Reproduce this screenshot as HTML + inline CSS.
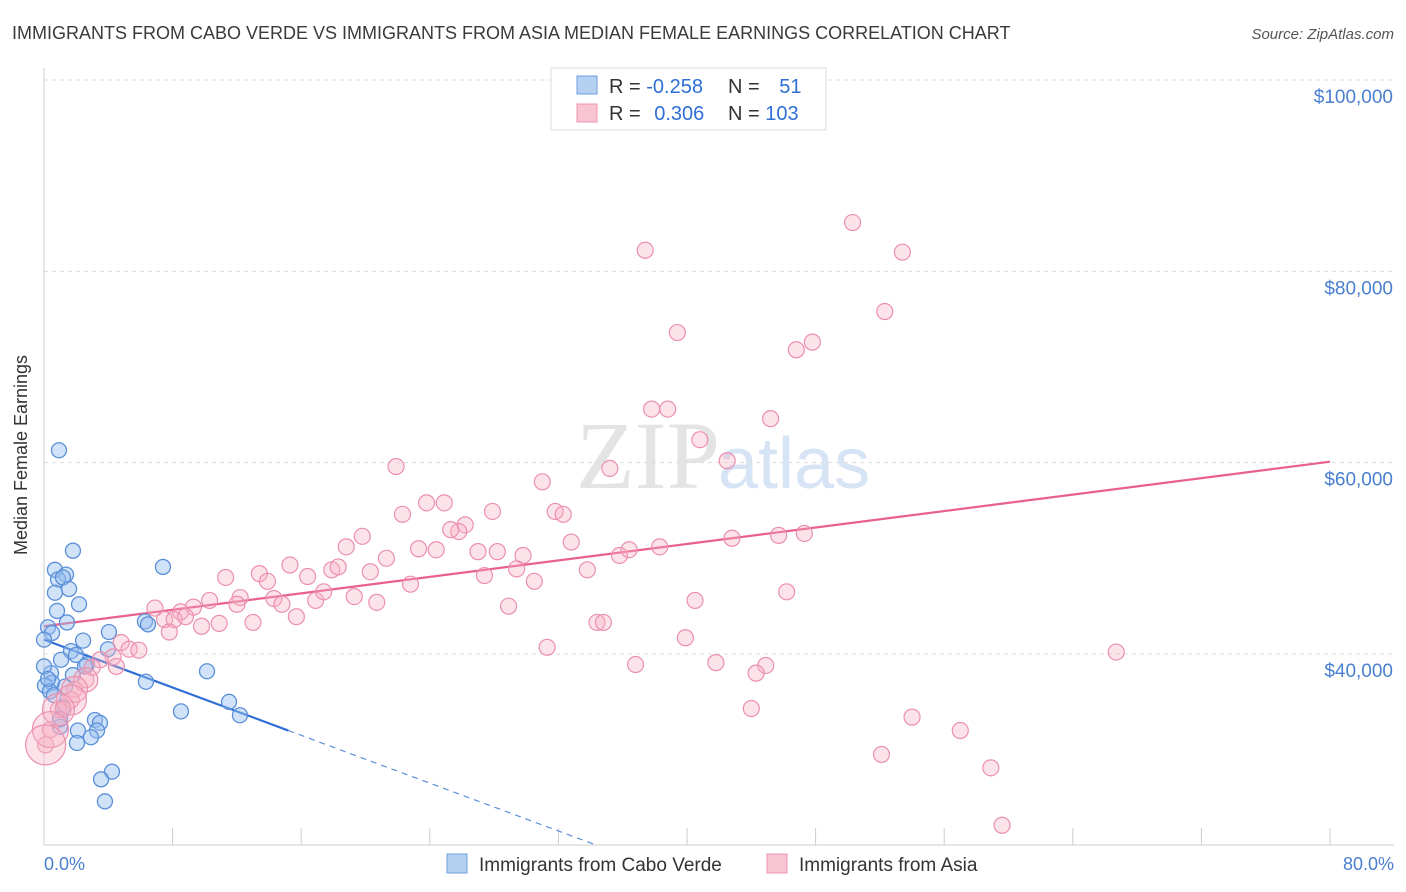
<!DOCTYPE html>
<html><head><meta charset="utf-8"><style>
body{margin:0;background:#fff;font-family:"Liberation Sans",sans-serif;}
svg{display:block}
</style></head><body>
<svg width="1406" height="892" xmlns="http://www.w3.org/2000/svg">
<text x="12" y="39" font-size="18" fill="#3a3a3a">IMMIGRANTS FROM CABO VERDE VS IMMIGRANTS FROM ASIA MEDIAN FEMALE EARNINGS CORRELATION CHART</text>
<text x="1394" y="39" font-size="15" fill="#555" font-style="italic" text-anchor="end">Source: ZipAtlas.com</text>
<text x="720" y="488" font-size="96" fill="#e4e4e4" text-anchor="end" font-family="Liberation Serif,serif">ZIP</text>
<text x="718" y="488" font-size="72" fill="#d6e4f5">atlas</text>
<g id="grid"></g><g id="axes"></g><g id="trend"></g><g id="pts"></g>
<text x="27" y="455" font-size="18" fill="#333" text-anchor="middle" transform="rotate(-90 27 455)">Median Female Earnings</text>
<text x="44" y="870" font-size="18" fill="#4a7fd0">0.0%</text>
<text x="1394" y="870" font-size="18" fill="#4a7fd0" text-anchor="end">80.0%</text>
<g>
<rect x="551" y="68" width="275" height="62" fill="#fff" stroke="#ddd"/>
<rect x="577" y="76" width="20" height="18" fill="#b6d0f2" stroke="#6f9ee0"/>
<rect x="577" y="104" width="20" height="18" fill="#f8c4d2" stroke="#ec93b0"/>
<text x="609" y="93" font-size="20" fill="#333">R = <tspan fill="#2f6fd6">-0.258</tspan></text>
<text x="728" y="93" font-size="20" fill="#333">N = <tspan fill="#2f6fd6" dx="14">51</tspan></text>
<text x="609" y="120" font-size="20" fill="#333">R = <tspan fill="#2f6fd6" dx="8">0.306</tspan></text>
<text x="728" y="120" font-size="20" fill="#333">N = <tspan fill="#2f6fd6">103</tspan></text>
</g>
<g>
<rect x="447" y="854" width="20" height="19" fill="#b6d0f2" stroke="#6f9ee0"/>
<text x="479" y="871" font-size="19" fill="#333">Immigrants from Cabo Verde</text>
<rect x="767" y="854" width="20" height="19" fill="#f8c4d2" stroke="#ec93b0"/>
<text x="799" y="871" font-size="19" fill="#333">Immigrants from Asia</text>
</g>
</svg>
<script>
const yTicks=[40000,60000,80000,100000];
const yTickLabels=["$40,000","$60,000","$80,000","$100,000"];
const xTicks=[0,8,16,24,32,40,48,56,64,72,80];
const blueX=[0.93,1.80,0.68,1.37,0.87,1.18,0.68,1.56,2.18,0.81,1.43,0.25,0.50,0,2.43,4.04,1.68,1.99,1.06,6.28,7.40,2.67,2.55,3.98,10.14,0.44,1.80,0.50,0.06,0.37,6.34,1.18,8.52,11.51,12.19,3.17,3.48,1.00,3.30,2.11,2.92,2.05,4.23,3.55,3.79,0,0.25,1.31,0.62,6.47,1.0];
const blueY=[61.3,50.8,48.8,48.3,47.8,48.0,46.4,46.8,45.2,44.5,43.3,42.8,42.2,41.5,41.4,42.3,40.3,39.9,39.4,43.4,49.1,38.9,38.7,40.5,38.2,38.0,37.8,37.0,36.7,36.1,37.1,34.4,34.0,35.0,33.6,33.1,32.8,32.4,32.0,32.0,31.3,30.7,27.7,26.9,24.6,38.7,37.4,36.6,35.7,43.1,33.2];
const pinkX=[50.3,37.4,53.4,52.3,39.4,47.8,46.8,37.8,38.8,45.2,40.8,42.5,21.9,35.2,31.0,22.3,23.8,24.9,31.8,32.3,27.9,26.2,25.8,25.3,32.8,19.8,18.8,23.3,24.4,27.0,28.2,29.8,21.3,35.8,36.4,38.3,42.8,45.7,47.3,15.3,17.9,18.3,20.3,13.4,11.3,16.4,13.9,29.4,33.8,27.4,22.8,30.5,19.3,20.7,14.3,12.2,10.3,9.3,16.9,14.8,6.9,8.5,12.0,28.9,40.5,46.2,17.4,15.7,7.5,8.1,8.8,9.8,10.9,13.0,7.8,34.4,34.8,39.9,31.3,4.8,5.3,5.9,4.3,3.5,3.0,4.5,41.8,36.8,44.9,44.3,66.7,2.6,1.9,1.7,0.9,0.4,0.1,44.0,54.0,57.0,52.1,58.9,59.6,1.2];
const pinkY=[85.1,82.2,82.0,75.8,73.6,72.6,71.8,65.6,65.6,64.6,62.4,60.2,59.6,59.4,58.0,54.6,55.8,55.8,54.9,54.6,54.9,53.5,52.8,53.0,51.7,52.3,51.2,51.0,50.9,50.7,50.7,50.3,50.0,50.3,50.9,51.2,52.1,52.4,52.6,49.3,48.8,49.1,48.6,48.4,48.0,48.1,47.6,48.9,48.8,48.2,47.3,47.6,46.0,45.4,45.8,45.9,45.6,44.9,45.6,45.2,44.8,44.4,45.2,45.0,45.6,46.5,46.5,43.9,43.6,43.6,43.9,42.9,43.2,43.3,42.3,43.3,43.3,41.7,40.7,41.2,40.5,40.4,39.7,39.4,38.6,38.7,39.1,38.9,38.8,38.0,40.2,37.3,36.3,35.2,34.2,32.1,30.5,34.3,33.4,32.0,29.5,28.1,22.1,34.2];
const pinkBig=[[2.6,37.3,12],[1.9,36.3,13],[1.7,35.2,15],[0.9,34.2,16],[0.4,32.1,18],[0.1,30.5,20]];
const pinkTrend=[42.9,60.1];
const blueTrend=[41.5,32.0,15.2];
const X0=44,X1=1330,Y100=80,Y40=654;
const sx=v=>X0+(X1-X0)*v/80;
const sy=v=>Y40-(v-40)*(Y40-Y100)/60;
const NS="http://www.w3.org/2000/svg";
function mk(p,t,a){const e=document.createElementNS(NS,t);for(const k in a)e.setAttribute(k,a[k]);document.getElementById(p).appendChild(e);return e;}
yTicks.forEach((t,i)=>{
 const l=mk('grid','line',{x1:44,x2:1394,y1:sy(t/1000),y2:sy(t/1000),stroke:'#ddd','stroke-dasharray':'4 4'});
 
 
 const tx=mk('grid','text',{x:1393,y:sy(t/1000)+23,'font-size':19,fill:'#4a7fd0','text-anchor':'end'});
 tx.textContent=yTickLabels[i];
 
 
});
const ax=mk('axes','line',{x1:44,x2:1394,y1:845,y2:845,stroke:'#ccc'});


const ay=mk('axes','line',{x1:44,x2:44,y1:68,y2:845,stroke:'#ccc'});


xTicks.forEach(t=>{
 const l=mk('axes','line',{x1:sx(t),x2:sx(t),y1:828,y2:845,stroke:'#ccc'});
 
 
});
blueX.forEach((v,i)=>{
 const c=mk('pts','circle',{cx:sx(v),cy:sy(blueY[i]),r:7.5,fill:'rgba(150,190,240,0.45)',stroke:'#5b8fd8','stroke-width':1.3});
 
 
});
pinkX.forEach((v,i)=>{
 const c=mk('pts','circle',{cx:sx(v),cy:sy(pinkY[i]),r:8,fill:'rgba(245,175,195,0.35)',stroke:'#eb8fae','stroke-width':1.2});
 
 
});
pinkBig.forEach(p=>{
 const c=mk('pts','circle',{cx:sx(p[0]),cy:sy(p[1]),r:p[2],fill:'rgba(245,175,195,0.35)',stroke:'#eb8fae','stroke-width':1.2});
 
 
});
const pt=mk('trend','line',{x1:sx(0),y1:sy(pinkTrend[0]),x2:sx(80),y2:sy(pinkTrend[1]),stroke:'#e8608e','stroke-width':2.2});


const bs=(blueTrend[1]-blueTrend[0])/blueTrend[2];
const bt=mk('trend','line',{x1:sx(0),y1:sy(blueTrend[0]),x2:sx(blueTrend[2]),y2:sy(blueTrend[1]),stroke:'#2f6fd6','stroke-width':2.2});


const xe=(20-blueTrend[0])/bs;
const bd=mk('trend','line',{x1:sx(blueTrend[2]),y1:sy(blueTrend[1]),x2:sx(xe),y2:sy(20),stroke:'#5b8fd8','stroke-width':1.2,'stroke-dasharray':'6 5'});


</script>
</body></html>
